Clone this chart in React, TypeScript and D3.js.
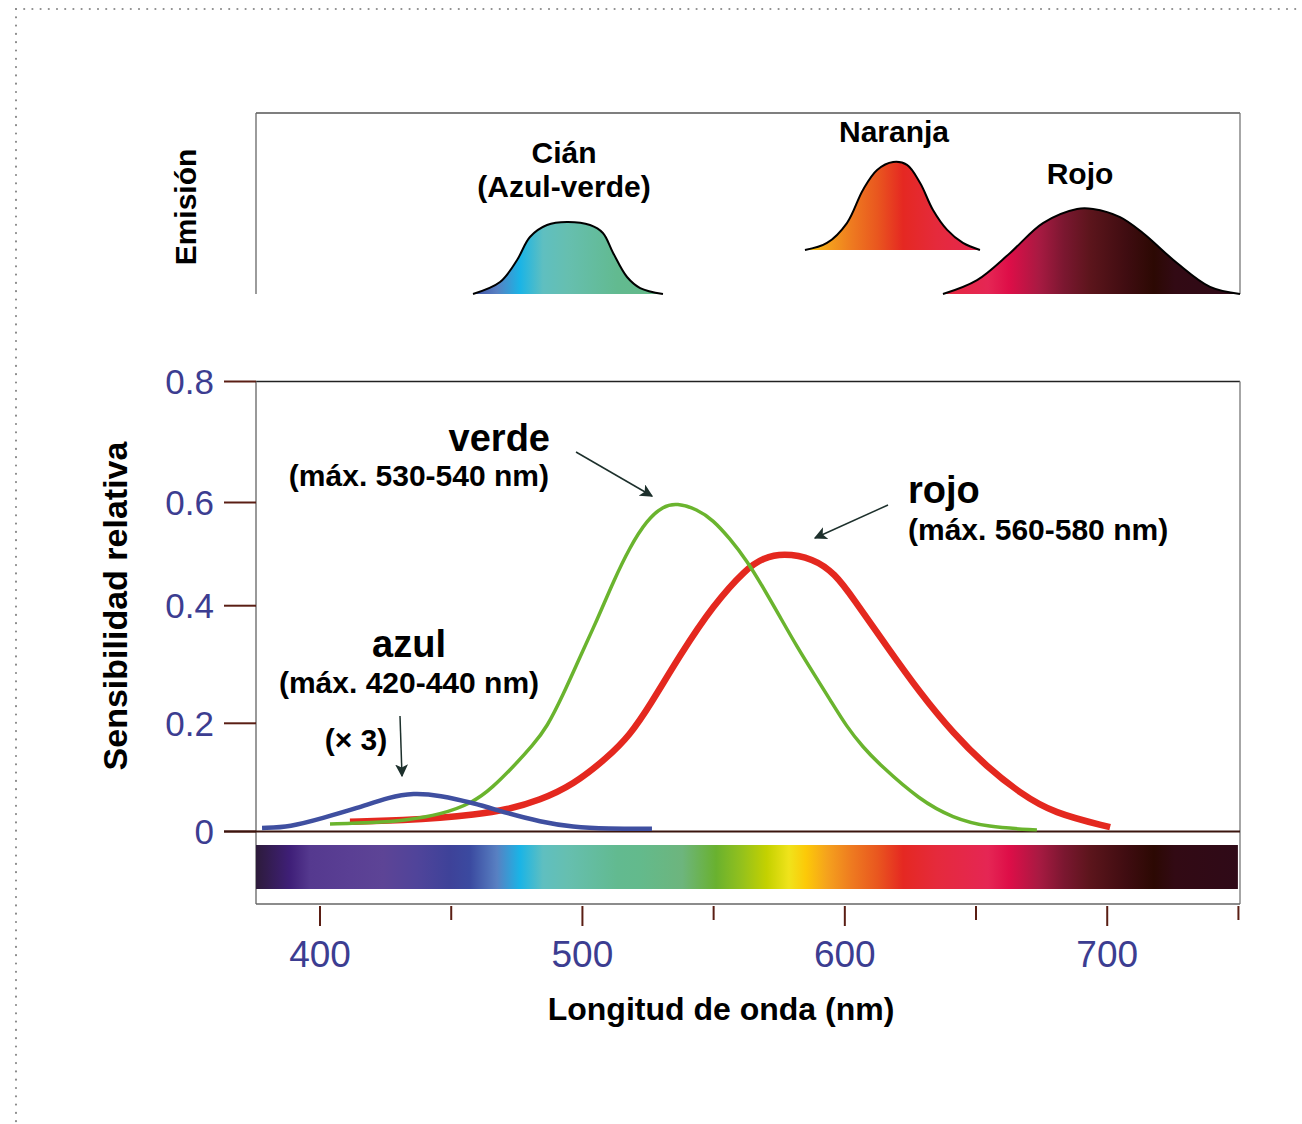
import React from 'react';
import * as d3 from 'd3';

const W = 1302;
const H = 1124;

const yTicks = [0, 0.2, 0.4, 0.6, 0.8];
const yTickLabels = ['0', '0.2', '0.4', '0.6', '0.8'];
const xMajorTicks = [400, 500, 600, 700];
const xMinorTicks = [450, 550, 650, 750];

// Cone sensitivity curves (wavelength nm, relative sensitivity)
const greenNm = [403.8, 420.2, 433.1, 445.7, 458.3, 465.9, 473.5, 481.2, 486.5, 492.6, 499.1, 505.6, 511.7, 518.1, 524.6, 530.7, 536.0, 543.7, 549.8, 556.2, 562.7, 568.8, 575.3, 581.8, 587.9, 594.4, 600.8, 606.9, 613.4, 628.6, 641.2, 654.2, 673.2];
const greenVal = [0.014, 0.016, 0.021, 0.031, 0.053, 0.082, 0.119, 0.16, 0.193, 0.248, 0.313, 0.376, 0.446, 0.514, 0.566, 0.593, 0.599, 0.587, 0.566, 0.53, 0.487, 0.436, 0.381, 0.33, 0.286, 0.24, 0.193, 0.156, 0.123, 0.058, 0.025, 0.008, 0.003];

const redNm = [411.4, 433.1, 445.7, 458.3, 471.3, 483.8, 496.4, 509.4, 518.1, 525.8, 537.2, 549.8, 562.7, 568.8, 576.4, 587.9, 596.3, 603.1, 616.1, 628.6, 641.2, 654.2, 666.8, 679.4, 701.1];
const redVal = [0.018, 0.021, 0.025, 0.031, 0.04, 0.058, 0.086, 0.136, 0.178, 0.231, 0.316, 0.401, 0.473, 0.492, 0.502, 0.492, 0.462, 0.415, 0.33, 0.252, 0.182, 0.119, 0.071, 0.034, 0.008];

const blueNm = [377.9, 388.6, 401.1, 414.1, 426.7, 435.4, 445.7, 458.3, 471.3, 483.8, 496.4, 509.4, 526.5];
const blueVal = [0.0065, 0.0083, 0.025, 0.043, 0.064, 0.071, 0.067, 0.053, 0.034, 0.018, 0.008, 0.005, 0.005];

// Emission spectra (nm, relative emission in panel units)
const cianNm = [458.3, 468.6, 475.1, 480.0, 486.5, 494.1, 502.9, 507.8, 511.7, 517.0, 522.0, 530.7];
const cianVal = [0.0, 0.066, 0.188, 0.315, 0.381, 0.398, 0.381, 0.337, 0.227, 0.094, 0.033, 0.0];
const cianBase = 0;

const naranjaNm = [584.8, 593.2, 600.8, 606.9, 612.3, 618.4, 623.7, 628.7, 633.6, 639.0, 645.0, 651.5];
const naranjaVal = [0.243, 0.282, 0.392, 0.575, 0.685, 0.729, 0.713, 0.613, 0.464, 0.354, 0.282, 0.243];
const naranjaBase = 0.243;

const rojoNm = [637.4, 650.4, 663.0, 675.5, 688.5, 694.6, 704.9, 713.6, 726.6, 739.2, 750.6];
const rojoVal = [0.0, 0.077, 0.227, 0.392, 0.47, 0.47, 0.425, 0.337, 0.171, 0.039, 0.0];
const rojoBase = 0;

// Visible spectrum colour stops
const spectrumNm = [375.6, 388.6, 396.2, 411.4, 424.0, 437.0, 449.5, 457.2, 467.4, 476.2, 485.0, 494.1, 513.2, 522.0, 538.0, 550.9, 560.8, 570.3, 578.7, 585.2, 593.2, 602.7, 612.6, 622.2, 635.1, 654.6, 662.6, 674.0, 683.5, 693.4, 707.9, 717.8, 725.8, 750.6];
const spectrumColor = ['#2d1b3b', '#3f1f78', '#55398f', '#5a3f94', '#5d4496', '#50449a', '#3e4299', '#3b4aa0', '#5880c2', '#1ab4e6', '#5fbfc0', '#66bfb0', '#62ba90', '#63ba8c', '#6db57d', '#69b12f', '#94c11c', '#c4d100', '#f0e31b', '#fcc908', '#f5a21d', '#ee7a20', '#e9561f', '#e52822', '#e52a3c', '#e52654', '#de0e48', '#a81a42', '#7b1730', '#5c151c', '#3e0c10', '#2c0903', '#320a14', '#2f0a18'];

const FONT = '"Liberation Sans", Arial, Helvetica, sans-serif';
const tickColor = '#5a1e14';
const labelBlue = '#3c3d91';
const arrowColor = '#1d302c';

export default function App() {
  const x = d3.scaleLinear().domain([375.6, 750.6]).range([256, 1240]);
  const y = d3.scaleLinear().domain(yTicks).range([831.5, 723.3, 605.7, 502.5, 381.5]);
  const yE = d3.scaleLinear().domain([0, 1]).range([294, 113]);

  const plotTop = y(0.8);
  const plotBottom = 904;
  const x0 = x.range()[0];
  const x1 = x.range()[1];

  const line = d3
    .line<[number, number]>()
    .x((d) => x(d[0]))
    .y((d) => y(d[1]))
    .curve(d3.curveBasis);

  const eLine = d3
    .line<[number, number]>()
    .x((d) => x(d[0]))
    .y((d) => yE(d[1]))
    .curve(d3.curveCatmullRom.alpha(0.5));

  const eArea = (base: number) =>
    d3
      .area<[number, number]>()
      .x((d) => x(d[0]))
      .y0(yE(base))
      .y1((d) => yE(d[1]))
      .curve(d3.curveCatmullRom.alpha(0.5));

  const zip = (a: number[], b: number[]) => a.map((v, i) => [v, b[i]] as [number, number]);

  const emissions = [
    { nm: cianNm, val: cianVal, base: cianBase },
    { nm: naranjaNm, val: naranjaVal, base: naranjaBase },
    { nm: rojoNm, val: rojoVal, base: rojoBase },
  ];

  const gradStops = spectrumNm.map((nm, i) => ({
    offset: (x(nm) - x0) / (x1 - x0),
    color: spectrumColor[i],
  }));

  const curves = [
    { nm: redNm, val: redVal, color: '#e4281f', width: 6.5 },
    { nm: greenNm, val: greenVal, color: '#6ab42e', width: 3.5 },
    { nm: blueNm, val: blueVal, color: '#3f4fa0', width: 4.5 },
  ];

  const arrows = [
    { from: [576, 452], to: [652, 496] },
    { from: [888, 505], to: [815, 538] },
    { from: [400, 716], to: [402, 776] },
  ];

  return (
    <svg
      width={W}
      height={H}
      viewBox={`0 0 ${W} ${H}`}
      style={{ position: 'absolute', left: 0, top: 0, background: '#fff' }}
      fontFamily={FONT}
    >
      <defs>
        <linearGradient id="spectrum" gradientUnits="userSpaceOnUse" x1={x0} x2={x1} y1={0} y2={0}>
          {gradStops.map((s, i) => (
            <stop key={i} offset={s.offset} stopColor={s.color} />
          ))}
        </linearGradient>
        <marker id="arrowhead" viewBox="0 0 10 10" refX="9" refY="5" markerWidth="13" markerHeight="13" markerUnits="userSpaceOnUse" orient="auto">
          <path d="M0,0 L10,5 L0,10 L2.5,5 Z" fill={arrowColor} />
        </marker>
      </defs>

      {/* dotted frame */}
      <line x1={16} y1={9} x2={W} y2={9} stroke="#8c8c8c" strokeWidth={2.2} strokeDasharray="0 8.2" strokeLinecap="round" />
      <line x1={16} y1={9} x2={16} y2={H} stroke="#8c8c8c" strokeWidth={2.2} strokeDasharray="0 8.3" strokeLinecap="round" />

      {/* Emission panel */}
      <line x1={x0} y1={yE(1)} x2={x1} y2={yE(1)} stroke="#555" strokeWidth={1.3} />
      <line x1={x0} y1={yE(1)} x2={x0} y2={yE(0)} stroke="#666" strokeWidth={1.3} />
      <line x1={x1} y1={yE(1)} x2={x1} y2={yE(0)} stroke="#777" strokeWidth={1.3} />
      {emissions.map((e, i) => {
        const pts = zip(e.nm, e.val);
        return (
          <g key={i}>
            <path d={eArea(e.base)(pts) || ''} fill="url(#spectrum)" />
            <path d={eLine(pts) || ''} fill="none" stroke="#000" strokeWidth={2} />
          </g>
        );
      })}
      <text x={196} y={207} transform="rotate(-90 196 207)" textAnchor="middle" fontSize={30} fontWeight="bold">Emisión</text>
      <text x={564} y={163} textAnchor="middle" fontSize={30} fontWeight="bold">Cián</text>
      <text x={564} y={197} textAnchor="middle" fontSize={30} fontWeight="bold">(Azul-verde)</text>
      <text x={894} y={142} textAnchor="middle" fontSize={30} fontWeight="bold">Naranja</text>
      <text x={1080} y={184} textAnchor="middle" fontSize={30} fontWeight="bold">Rojo</text>

      {/* Main plot frame */}
      <line x1={x0} y1={plotTop} x2={x1} y2={plotTop} stroke="#222" strokeWidth={1.5} />
      <line x1={x0} y1={plotTop} x2={x0} y2={plotBottom} stroke="#777" strokeWidth={1.5} />
      <line x1={x1} y1={plotTop} x2={x1} y2={plotBottom} stroke="#888" strokeWidth={1.5} />
      <line x1={x0} y1={plotBottom} x2={x1} y2={plotBottom} stroke="#666" strokeWidth={1.5} />

      {/* Spectrum bar */}
      <rect x={x0} y={845} width={x(749.8) - x0} height={44} fill="url(#spectrum)" />

      {/* Y ticks */}
      {yTicks.map((t, i) => (
        <g key={t}>
          <line x1={224} x2={x0} y1={y(t)} y2={y(t)} stroke={tickColor} strokeWidth={2} />
          <text x={214} y={y(t) + 12.5} textAnchor="end" fontSize={35} fill={labelBlue}>
            {yTickLabels[i]}
          </text>
        </g>
      ))}
      {/* zero line */}
      <line x1={224} x2={x1} y1={y(0)} y2={y(0)} stroke="#3a150e" strokeWidth={2} />

      {/* X ticks */}
      {xMajorTicks.map((t) => (
        <g key={t}>
          <line x1={x(t)} x2={x(t)} y1={906} y2={926} stroke={tickColor} strokeWidth={2} />
          <text x={x(t)} y={967} textAnchor="middle" fontSize={37} fill={labelBlue}>
            {t}
          </text>
        </g>
      ))}
      {xMinorTicks.map((t) => (
        <line key={t} x1={x(t)} x2={x(t)} y1={906} y2={920} stroke={tickColor} strokeWidth={2} />
      ))}

      {/* Curves */}
      {curves.map((c, i) => (
        <path key={i} d={line(zip(c.nm, c.val)) || ''} fill="none" stroke={c.color} strokeWidth={c.width} strokeLinecap="butt" />
      ))}

      {/* Axis titles */}
      <text x={127} y={606} transform="rotate(-90 127 606)" textAnchor="middle" fontSize={34} fontWeight="bold">
        Sensibilidad relativa
      </text>
      <text x={721} y={1020} textAnchor="middle" fontSize={32} fontWeight="bold">
        Longitud de onda (nm)
      </text>

      {/* Annotations */}
      <text x={550} y={451} textAnchor="end" fontSize={38} fontWeight="bold">verde</text>
      <text x={549} y={486} textAnchor="end" fontSize={30} fontWeight="bold">(máx. 530-540 nm)</text>
      <text x={908} y={503} textAnchor="start" fontSize={38} fontWeight="bold">rojo</text>
      <text x={908} y={540} textAnchor="start" fontSize={30} fontWeight="bold">(máx. 560-580 nm)</text>
      <text x={409} y={657} textAnchor="middle" fontSize={38} fontWeight="bold">azul</text>
      <text x={409} y={693} textAnchor="middle" fontSize={30} fontWeight="bold">(máx. 420-440 nm)</text>
      <text x={356} y={750} textAnchor="middle" fontSize={30} fontWeight="bold">(× 3)</text>

      {arrows.map((a, i) => (
        <line key={i} x1={a.from[0]} y1={a.from[1]} x2={a.to[0]} y2={a.to[1]} stroke={arrowColor} strokeWidth={1.5} markerEnd="url(#arrowhead)" />
      ))}
    </svg>
  );
}
